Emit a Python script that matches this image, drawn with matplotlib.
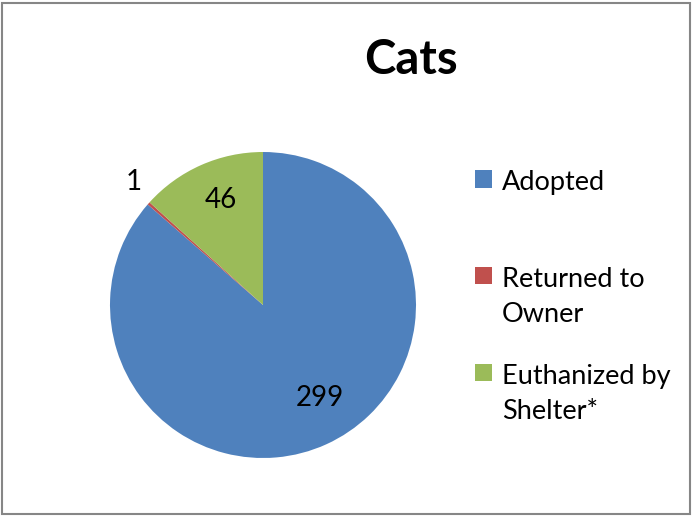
import numpy as np
import matplotlib.pyplot as plt
from matplotlib.patches import Rectangle

plt.rcParams['font.family'] = ['Lato', 'DejaVu Sans']

categories = ["Adopted", "Returned to\nOwner", "Euthanized by\nShelter*"]
counts = [299, 1, 46]
colors = ["#4F81BD", "#C0504D", "#9BBB59"]
# label placement (radius fraction, angle nudge in degrees)
label_dist = [0.71, 1.17, 0.74]
label_nudge = [7, -2, -2]

fig = plt.figure(figsize=(6.93, 5.16), dpi=100)

# pie axes: centre at (263, 305) px, radius 153 px
W, H = 693, 516
cx, cy, r = 263, 305, 153
ax = fig.add_axes([(cx - r) / W, (H - cy - r) / H, 2 * r / W, 2 * r / H])
wedges, _ = ax.pie(counts, colors=colors, startangle=90, counterclock=False,
                   radius=1.0, wedgeprops=dict(linewidth=0))
ax.set_xlim(-1, 1)
ax.set_ylim(-1, 1)
ax.set_aspect("equal")
ax.axis("off")

for w, n, d, nd in zip(wedges, counts, label_dist, label_nudge):
    mid = np.deg2rad((w.theta1 + w.theta2) / 2 + nd)
    ax.text(d * np.cos(mid), d * np.sin(mid), str(n), ha="center",
            va="center", fontsize=20, color="black")

fig.text(411 / W, 1 - 60 / H, "Cats", ha="center", va="center",
         fontsize=34, fontweight="bold")

# trailing newline keeps the wider gap after the single-line entry
leg_labels = [categories[0] + "\n"] + categories[1:]
leg = fig.legend(wedges, leg_labels, loc="upper left",
                 bbox_to_anchor=(451 / W, 1 - 146 / H), frameon=False,
                 fontsize=19.5, handlelength=0.62, handleheight=0.62,
                 handletextpad=0.35, labelspacing=1.35)
for t in leg.get_texts():
    t.set_linespacing(1.5)
# markers line up with the first text line, like the original
for row in leg._legend_handle_box.get_children()[0].get_children():
    row.align = "top"

fig.patches.append(Rectangle((2 / W, 2 / H), 1 - 5 / W, 1 - 5 / H,
                             transform=fig.transFigure, fill=False,
                             edgecolor="#868686", linewidth=1.5))

fig.savefig("out.png", dpi=100)
